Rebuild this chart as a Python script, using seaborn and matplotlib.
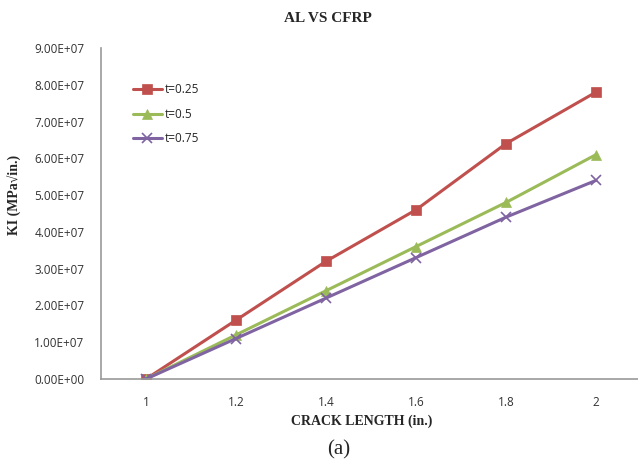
import numpy as np
import pandas as pd
import matplotlib
matplotlib.use('Agg')
import matplotlib.pyplot as plt
import seaborn as sns
from matplotlib.ticker import FuncFormatter

# data
crack_length = [1, 1.2, 1.4, 1.6, 1.8, 2]
ki_t025 = [0, 1.6e7, 3.2e7, 4.6e7, 6.4e7, 7.8e7]
ki_t05 = [0, 1.2e7, 2.4e7, 3.6e7, 4.8e7, 6.1e7]
ki_t075 = [0, 1.1e7, 2.2e7, 3.3e7, 4.4e7, 5.4e7]
series_names = ['t=0.25', 't=0.5', 't=0.75']

df = pd.DataFrame({
    'x': crack_length * 3,
    'ki': ki_t025 + ki_t05 + ki_t075,
    'series': np.repeat(series_names, len(crack_length)),
})

sns.set_style('white')
plt.rcParams['font.family'] = ['Open Sans', 'DejaVu Sans']

colors = {'t=0.25': '#C0504D', 't=0.5': '#9BBB59', 't=0.75': '#8064A2'}
markers = {'t=0.25': 's', 't=0.5': '^', 't=0.75': 'x'}

fig = plt.figure(figsize=(6.38, 4.70), dpi=100)
ax = fig.add_axes([101 / 638, 1 - 379 / 470, 540 / 638, 331 / 470])

for name in series_names:
    sub = df[df.series == name]
    sns.lineplot(data=sub, x='x', y='ki', ax=ax, color=colors[name],
                 marker=markers[name], markersize=7, linewidth=2.2,
                 markeredgecolor=colors[name], markeredgewidth=1.2 if name == 't=0.75' else 0.5,
                 label=name)

ax.set_xlim(0.9, 2.1)
ax.set_ylim(0, 9e7)
ax.set_xticks(crack_length)
ax.set_xticklabels(['1', '1.2', '1.4', '1.6', '1.8', '2'])
ax.set_yticks(np.arange(0, 9.01e7, 1e7))
ax.yaxis.set_major_formatter(FuncFormatter(lambda v, p: f'{v:.2E}'))
ax.tick_params(axis='both', length=0, labelsize=8.5, colors='#333333')
ax.tick_params(axis='x', pad=12)
ax.tick_params(axis='y', pad=12)

for s in ['top', 'right']:
    ax.spines[s].set_visible(False)
for s in ['left', 'bottom']:
    ax.spines[s].set_color('#999999')
    ax.spines[s].set_linewidth(1.2)

ax.set_xlabel('')
ax.set_ylabel('')

leg = ax.legend(loc='upper left', bbox_to_anchor=(0.04, 0.925), frameon=False,
                fontsize=8.5, handlelength=2.4, handletextpad=0.3, labelspacing=0.95)

serif = ['Liberation Serif', 'DejaVu Serif']
fig.text(328 / 638, 1 - 18 / 470, 'AL VS CFRP', ha='center', va='center',
         fontsize=11, fontweight='bold', family=serif)
fig.text(362 / 638, 1 - 421 / 470, 'CRACK LENGTH (in.)', ha='center', va='center',
         fontsize=10, fontweight='bold', family=serif)
fig.text(15 / 638, 1 - 195 / 470, 'KI (MPa\u221ain.)', ha='center', va='center',
         rotation=90, fontsize=10, fontweight='bold', family=serif)
fig.text(339 / 638, 1 - 450 / 470, '(a)', ha='center', va='center',
         fontsize=15, family=serif)

fig.savefig('out.png', dpi=100)
